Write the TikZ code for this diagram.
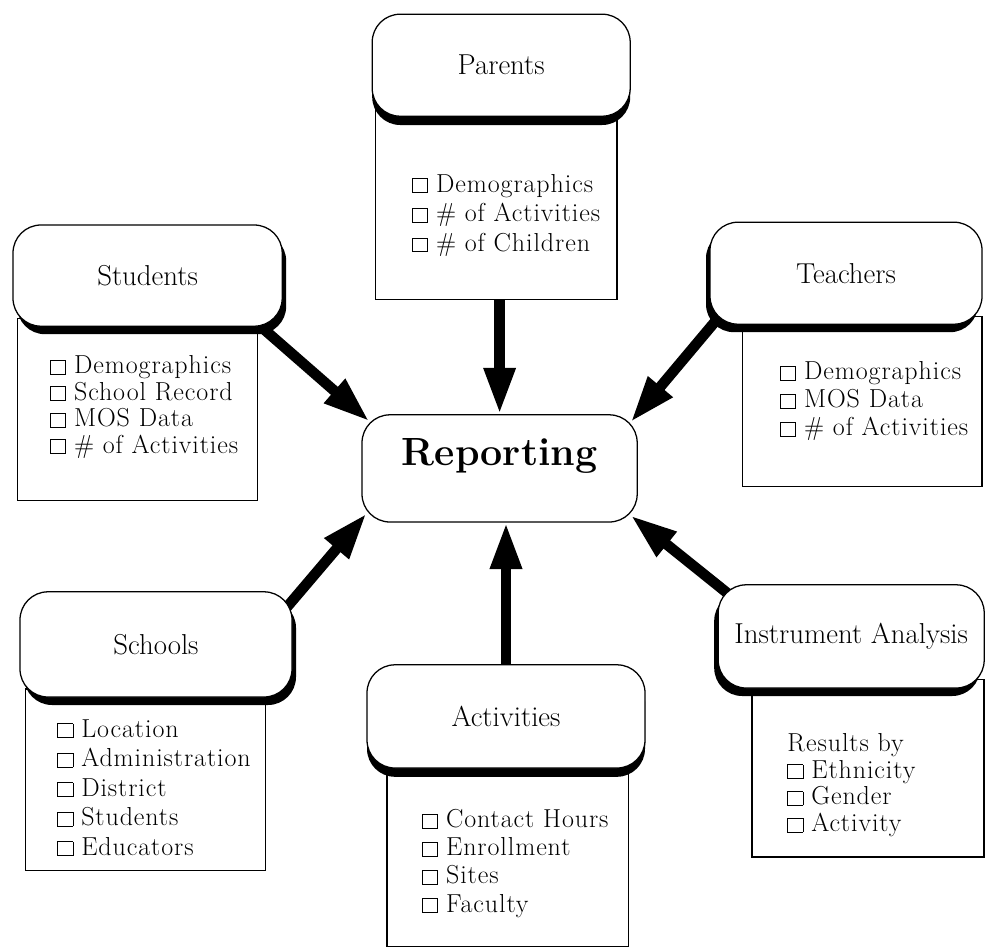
\documentclass[tikz,border=0pt]{standalone}
\usepackage{fontspec}
\usepackage{tikz}
\usetikzlibrary{arrows.meta}
\usetikzlibrary{shadows}
\usetikzlibrary{calc}

\pgfdeclarelayer{back}
\pgfsetlayers{back,main}

% empty square in front of each item
\newcommand{\chkbox}{{\setlength{\fboxsep}{0pt}\setlength{\fboxrule}{0.6pt}\fbox{\rule{0pt}{0.5em}\rule{0.55em}{0pt}}}\hspace{0.3em}}
% wider setting for the item lists
\newfontfamily\listfamily[LetterSpace=3.5]{Latin Modern Roman}
\newcommand{\itemfont}[1]{\listfamily\fontsize{18.5}{#1}\selectfont}

\begin{document}
\begin{tikzpicture}[
  head/.style={draw, line width=0.9pt, fill=white, rounded corners=0.7cm, inner sep=0pt, font=\fontsize{20.5}{24}\selectfont},
  sh/.style 2 args={drop shadow={shadow xshift=#1, shadow yshift=#2, fill=black, opacity=1}},
  list/.style={draw, line width=0.9pt, inner sep=0pt},
  items/.style={anchor=north west, inner sep=0pt, align=left, font=\itemfont{20}},
  arr/.style={-{Triangle[length=33pt,width=21pt]}, line width=7.5pt}
]
\useasboundingbox (0,0) rectangle (24.65,-23.725);

%% List frames
\node[list, minimum width=6.03cm, minimum height=4.78cm] (parlist) at (12.41,-5.09)  {};
\node[list, minimum width=6.0cm,  minimum height=4.55cm] (stulist) at (3.43,-10.23)  {};
\node[list, minimum width=5.98cm, minimum height=4.25cm] (tealist) at (21.56,-10.03) {};
\node[list, minimum width=6.0cm,  minimum height=4.53cm] (schlist) at (3.63,-19.49)  {};
\node[list, minimum width=6.03cm, minimum height=4.65cm] (actlist) at (12.69,-21.33) {};
\node[list, minimum width=5.8cm,  minimum height=4.43cm] (inslist) at (21.7,-19.21)  {};

%% Headings
\node[head, sh={0cm}{-0.22cm},     minimum width=6.45cm, minimum height=2.55cm] (par) at (12.53,-1.63) {Parents};
\node[head, sh={0.1cm}{-0.2cm},    minimum width=6.73cm, minimum height=2.53cm] (stu) at (3.69,-6.89)  {Students};
\node[head, sh={-0.1cm}{-0.2cm},   minimum width=6.8cm,  minimum height=2.55cm] (tea) at (21.15,-6.83) {Teachers};
\node[head, sh={0.1cm}{-0.2cm},    minimum width=6.8cm,  minimum height=2.63cm] (sch) at (3.9,-16.11)  {Schools};
\node[head, sh={0cm}{-0.22cm},     minimum width=6.95cm, minimum height=2.58cm] (act) at (12.65,-17.91) {Activities};
\node[head, sh={-0.1cm}{-0.2cm},   minimum width=6.65cm, minimum height=2.58cm] (ins) at (21.28,-15.91) {Instrument Analysis};

%% Items
\node[items, font=\itemfont{21}] (paritems) at (10.3,-4.35)
  {\chkbox Demographics\\ \chkbox\# of Activities\\ \chkbox\# of Children};
\node[items, font=\itemfont{18.9}] (stuitems) at (1.25,-8.88)
  {\chkbox Demographics\\ \chkbox School Record\\ \chkbox MOS Data\\ \chkbox\# of Activities};
\node[items] (teaitems) at (19.5,-9.03)
  {\chkbox Demographics\\ \chkbox MOS Data\\ \chkbox\# of Activities};
\node[items, font=\itemfont{21}] (schitems) at (1.43,-17.98)
  {\chkbox Location\\ \chkbox Administration\\ \chkbox District\\ \chkbox Students\\ \chkbox Educators};
\node[items] (actitems) at (10.55,-20.23)
  {\chkbox Contact Hours\\ \chkbox Enrollment\\ \chkbox Sites\\ \chkbox Faculty};
\node[items, font=\itemfont{19}] (insitems) at (19.68,-18.33)
  {Results by\\ \chkbox Ethnicity\\ \chkbox Gender\\ \chkbox Activity};

%% Centre box
\node[draw, line width=0.9pt, fill=white, rounded corners=0.7cm, minimum width=6.88cm, minimum height=2.68cm] (rep) at (12.49,-11.71) {};
\node[anchor=base, inner sep=0pt, font=\bfseries\fontsize{28}{32}\selectfont] (replabel) at (12.49,-11.63) {Reporting};

%% Arrows into the centre
\begin{pgfonlayer}{back}
\draw[arr] (rep.north |- parlist.south) -- (rep.north);
\draw[arr] ($(stu.south east)+(-1.0,0.4)$) -- ($(rep.north west)+(0.2,-0.18)$);
\draw[arr] ($(tea.south west)+(0.73,0.78)$) -- ($(rep.north east)+(-0.18,-0.2)$);
\draw[arr] ($(sch.north east)+(-0.68,-1.03)$) -- ($(rep.south west)+(0.13,0.23)$);
\draw[arr] ($(ins.north west)+(1.0,-0.83)$) -- ($(rep.south east)+(-0.18,0.18)$);
\draw[arr] (act.center) -- (act.center |- rep.south);
\end{pgfonlayer}

\end{tikzpicture}
\end{document}
